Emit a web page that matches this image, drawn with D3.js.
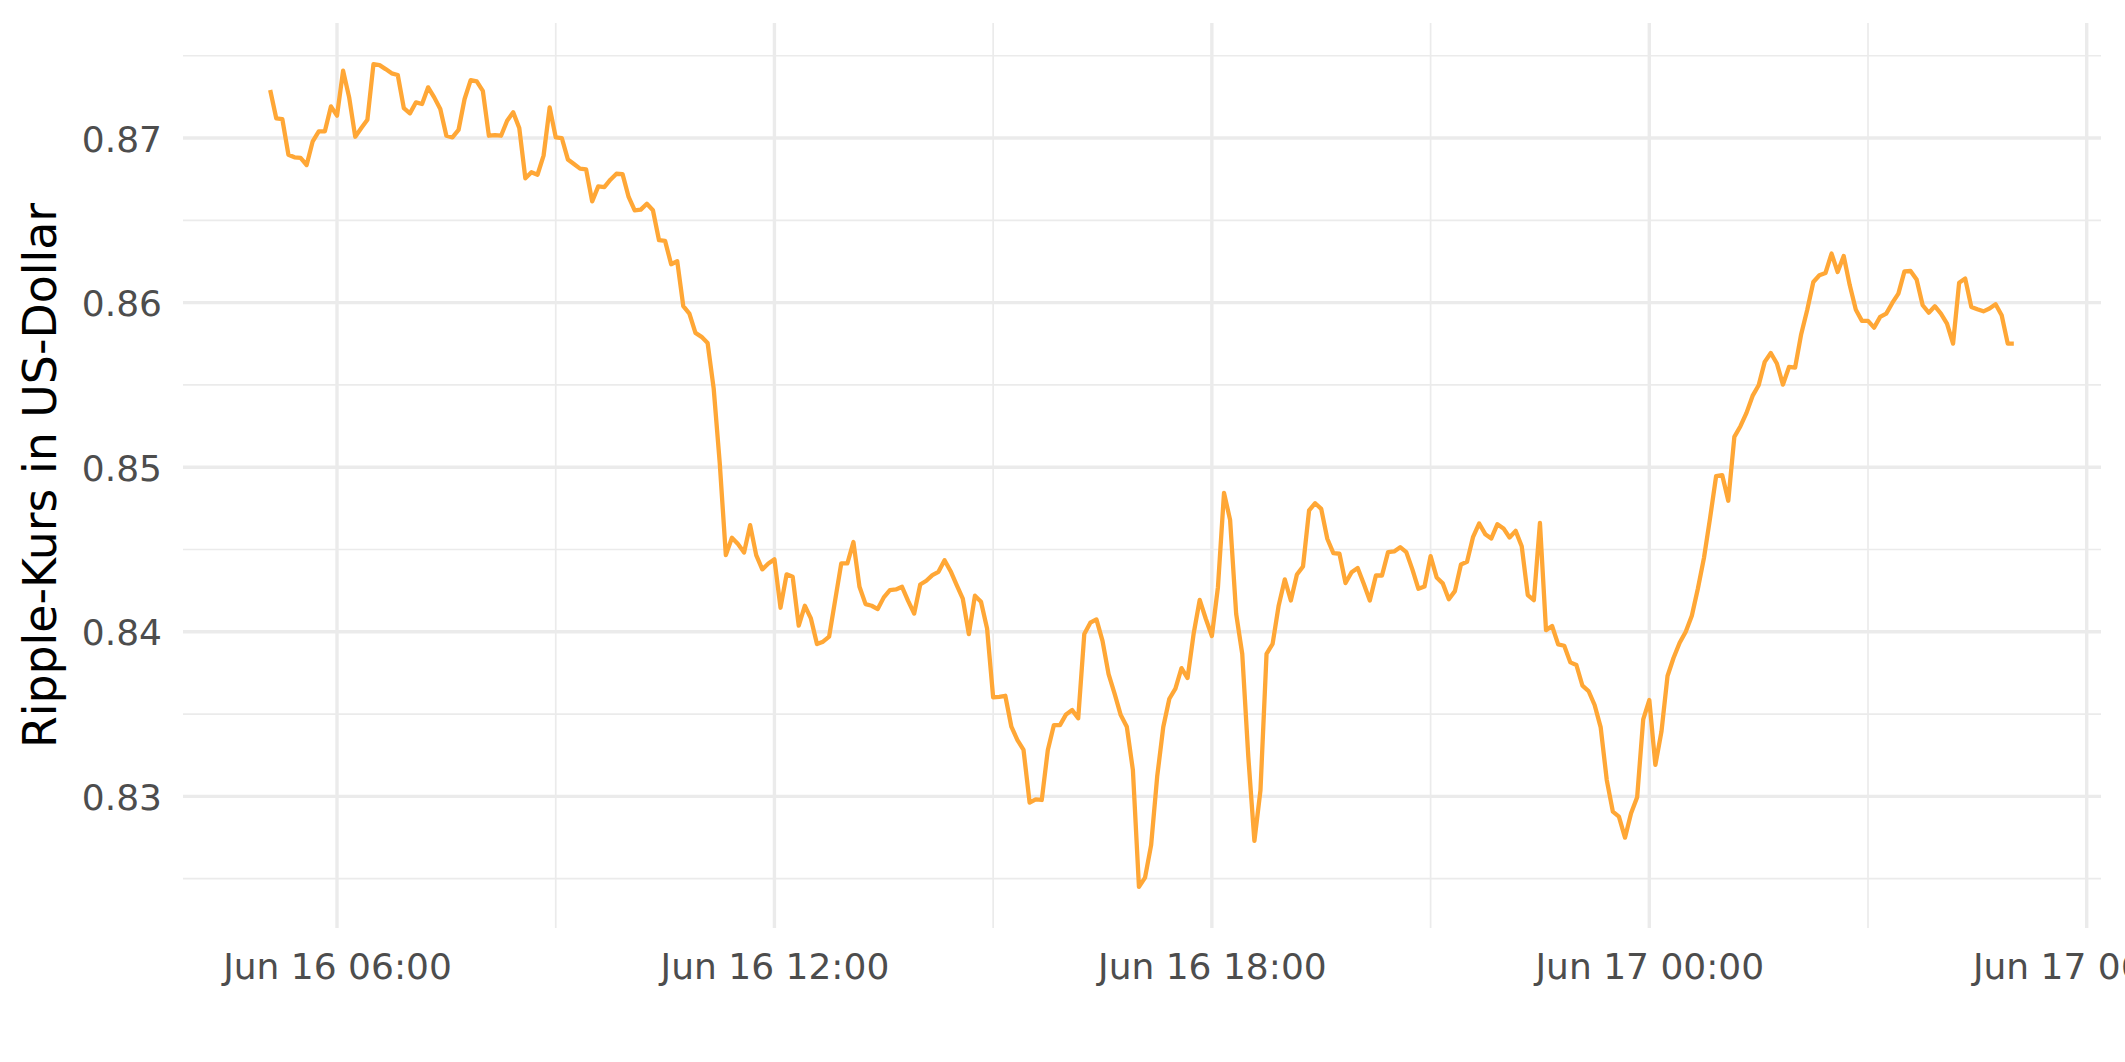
<!DOCTYPE html>
<html>
<head>
<meta charset="utf-8">
<script src="https://cdn.jsdelivr.net/npm/d3@7"></script>
<style>
  html, body { margin: 0; padding: 0; background: #ffffff; }
  svg { display: block; }
</style>
</head>
<body>
<svg id="chart" width="2125" height="1062"></svg>
<script>
// ---- data ----
const startTime = "2024-06-16T05:05:00Z";   // first observation
const stepMinutes = 5;                       // observation interval
const prices = [
0.87292,0.87120,0.87115,0.86899,0.86883,0.86879,0.86836,0.86980,0.87041,0.87041,
0.87192,0.87136,0.87409,0.87247,0.87008,0.87061,0.87111,0.87449,0.87443,0.87419,
0.87393,0.87383,0.87182,0.87150,0.87217,0.87207,0.87308,0.87247,0.87176,0.87014,
0.87004,0.87049,0.87237,0.87352,0.87344,0.87287,0.87014,0.87018,0.87014,0.87105,
0.87156,0.87061,0.86755,0.86792,0.86777,0.86893,0.87186,0.87004,0.87000,0.86870,
0.86842,0.86814,0.86810,0.86615,0.86706,0.86702,0.86747,0.86783,0.86781,0.86642,
0.86561,0.86565,0.86601,0.86561,0.86379,0.86375,0.86233,0.86251,0.85978,0.85933,
0.85816,0.85792,0.85755,0.85478,0.85023,0.84466,0.84571,0.84533,0.84482,0.84648,
0.84466,0.84379,0.84415,0.84440,0.84146,0.84349,0.84334,0.84037,0.84158,0.84081,
0.83925,0.83940,0.83970,0.84193,0.84415,0.84415,0.84545,0.84273,0.84168,0.84158,
0.84138,0.84209,0.84253,0.84257,0.84273,0.84188,0.84111,0.84287,0.84310,0.84344,
0.84364,0.84435,0.84368,0.84283,0.84202,0.83986,0.84219,0.84182,0.84020,0.83601,
0.83605,0.83611,0.83423,0.83342,0.83282,0.82962,0.82982,0.82978,0.83282,0.83433,
0.83433,0.83498,0.83524,0.83474,0.83986,0.84055,0.84075,0.83945,0.83743,0.83622,
0.83494,0.83423,0.83160,0.82450,0.82506,0.82703,0.83120,0.83421,0.83593,0.83654,
0.83779,0.83719,0.83988,0.84194,0.84079,0.83974,0.84271,0.84844,0.84680,0.84109,
0.83866,0.83240,0.82729,0.83037,0.83866,0.83927,0.84160,0.84318,0.84190,0.84348,
0.84397,0.84737,0.84781,0.84747,0.84565,0.84478,0.84474,0.84296,0.84362,0.84387,
0.84292,0.84190,0.84342,0.84342,0.84484,0.84488,0.84514,0.84484,0.84379,0.84261,
0.84275,0.84460,0.84330,0.84294,0.84198,0.84247,0.84409,0.84425,0.84577,0.84658,
0.84593,0.84567,0.84654,0.84628,0.84573,0.84613,0.84520,0.84223,0.84192,0.84662,
0.84010,0.84035,0.83923,0.83915,0.83814,0.83798,0.83672,0.83640,0.83555,0.83419,
0.83099,0.82907,0.82877,0.82749,0.82897,0.82994,0.83468,0.83585,0.83191,0.83393,
0.83731,0.83842,0.83933,0.84000,0.84097,0.84263,0.84449,0.84690,0.84946,0.84952,
0.84796,0.85184,0.85249,0.85330,0.85433,0.85498,0.85640,0.85694,0.85630,0.85502,
0.85609,0.85605,0.85808,0.85957,0.86125,0.86166,0.86180,0.86298,0.86186,0.86283,
0.86105,0.85957,0.85889,0.85889,0.85848,0.85913,0.85933,0.85998,0.86055,0.86190,
0.86192,0.86140,0.85984,0.85939,0.85978,0.85933,0.85872,0.85751,0.86121,0.86146,
0.85974,0.85960,0.85947,0.85964,0.85990,0.85923,0.85751,0.85751
];
const yMajorTicks = [0.83, 0.84, 0.85, 0.86, 0.87];
const yMinorTicks = [0.825, 0.835, 0.845, 0.855, 0.865, 0.875];
const xMajorTicks = ["2024-06-16T06:00:00Z","2024-06-16T12:00:00Z","2024-06-16T18:00:00Z","2024-06-17T00:00:00Z","2024-06-17T06:00:00Z"];
const xMinorTicks = ["2024-06-16T09:00:00Z","2024-06-16T15:00:00Z","2024-06-16T21:00:00Z","2024-06-17T03:00:00Z"];
const yTitle = "Ripple-Kurs in US-Dollar";

// ---- build ----
const t0 = new Date(startTime).getTime();
const data = prices.map((v, i) => ({ t: new Date(t0 + i * stepMinutes * 60000), v }));

const W = 2125, H = 1062;
const panel = { left: 183, right: 2101, top: 23, bottom: 928 };

const tExt = d3.extent(data, d => d.t);
const tPad = (tExt[1] - tExt[0]) * 0.05;
const x = d3.scaleUtc()
  .domain([new Date(+tExt[0] - tPad), new Date(+tExt[1] + tPad)])
  .range([panel.left, panel.right]);

const vExt = d3.extent(data, d => d.v);
const vPad = (vExt[1] - vExt[0]) * 0.05;
const y = d3.scaleLinear()
  .domain([vExt[0] - vPad, vExt[1] + vPad])
  .range([panel.bottom, panel.top]);

const svg = d3.select("#chart");
svg.append("rect").attr("width", W).attr("height", H).attr("fill", "#ffffff");

const grid = svg.append("g");
grid.selectAll("line.hmin").data(yMinorTicks).join("line")
  .attr("x1", panel.left).attr("x2", panel.right)
  .attr("y1", d => y(d)).attr("y2", d => y(d))
  .attr("stroke", "#EBEBEB").attr("stroke-width", 1.7);
grid.selectAll("line.vmin").data(xMinorTicks.map(s => new Date(s))).join("line")
  .attr("x1", d => x(d)).attr("x2", d => x(d))
  .attr("y1", panel.top).attr("y2", panel.bottom)
  .attr("stroke", "#EBEBEB").attr("stroke-width", 1.7);
grid.selectAll("line.hmaj").data(yMajorTicks).join("line")
  .attr("x1", panel.left).attr("x2", panel.right)
  .attr("y1", d => y(d)).attr("y2", d => y(d))
  .attr("stroke", "#EBEBEB").attr("stroke-width", 3.4);
grid.selectAll("line.vmaj").data(xMajorTicks.map(s => new Date(s))).join("line")
  .attr("x1", d => x(d)).attr("x2", d => x(d))
  .attr("y1", panel.top).attr("y2", panel.bottom)
  .attr("stroke", "#EBEBEB").attr("stroke-width", 3.4);

const line = d3.line().x(d => x(d.t)).y(d => y(d.v));
svg.append("path").datum(data)
  .attr("d", line)
  .attr("fill", "none")
  .attr("stroke", "#FFA736")
  .attr("stroke-width", 4.3)
  .attr("stroke-linejoin", "round")
  .attr("stroke-linecap", "butt");

const fmtX = d3.utcFormat("%b %d %H:%M");
const xAxis = d3.axisBottom(x)
  .tickValues(xMajorTicks.map(s => new Date(s)))
  .tickFormat(fmtX).tickSize(0).tickPadding(51);
const gx = svg.append("g").attr("transform", `translate(0,${panel.bottom})`).call(xAxis);
gx.select(".domain").remove();
gx.selectAll("text")
  .attr("font-family", "DejaVu Sans, sans-serif")
  .attr("font-size", 36).attr("fill", "#4D4D4D").attr("dy", 0);

const yAxis = d3.axisLeft(y)
  .tickValues(yMajorTicks)
  .tickFormat(d3.format(".2f")).tickSize(0).tickPadding(21);
const gy = svg.append("g").attr("transform", `translate(${panel.left},0)`).call(yAxis);
gy.select(".domain").remove();
gy.selectAll("text")
  .attr("font-family", "DejaVu Sans, sans-serif")
  .attr("font-size", 36).attr("fill", "#4D4D4D").attr("dy", "0.36em");

svg.append("text")
  .attr("transform", `translate(56,${(panel.top + panel.bottom) / 2}) rotate(-90)`)
  .attr("text-anchor", "middle")
  .attr("font-family", "DejaVu Sans, sans-serif")
  .attr("font-size", 45.8).attr("fill", "#000000")
  .text(yTitle);
</script>
</body>
</html>
